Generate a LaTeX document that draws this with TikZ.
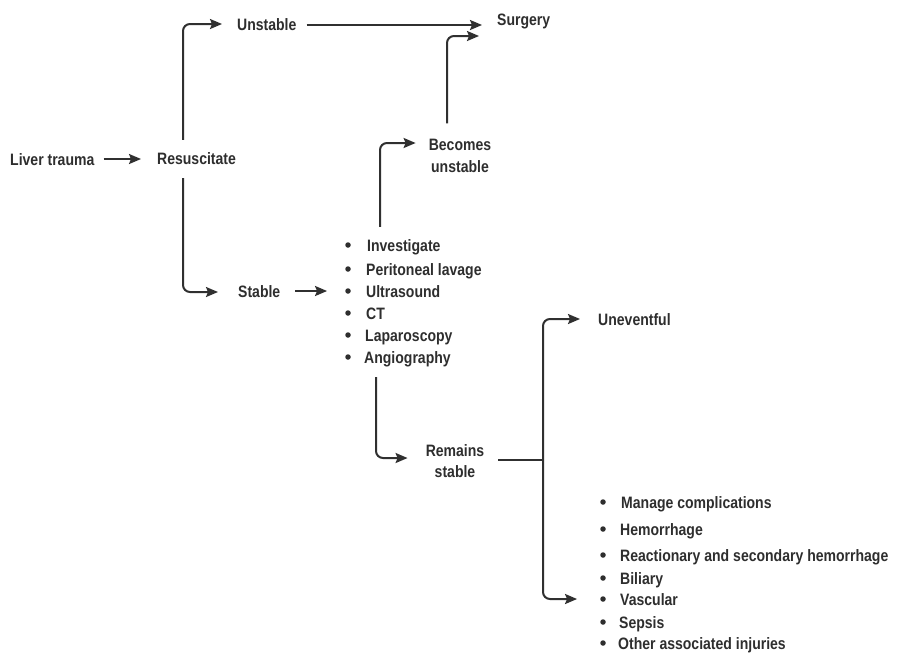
\documentclass[tikz,border=0pt]{standalone}
\usepackage{fontspec}
\setmainfont{Liberation Sans}
\newfontfamily\lblfont{Liberation Sans Bold}[FakeStretch=0.85]
\usetikzlibrary{arrows.meta}
\definecolor{ink}{HTML}{2E2E2E}
\definecolor{wire}{HTML}{303030}
\begin{document}
\begin{tikzpicture}[x=1pt,y=-1pt,
  lbl/.style={font=\lblfont\fontsize{16.5}{21.5}\selectfont, text=ink, inner sep=0pt, anchor=west, text height=12pt, text depth=0pt},
  twoline/.style={lbl, anchor=center, align=center, text height=, text depth=},
  conn/.style={draw=wire, line width=2pt, rounded corners=7pt, -{Stealth[length=12pt,width=10pt,inset=2pt]}},
  wireline/.style={draw=wire, line width=2pt, rounded corners=7pt},
  dot/.style={circle, fill=ink, inner sep=0pt, minimum size=5.5pt}]
\useasboundingbox[fill=white] (0,0) rectangle (901,657);

% main nodes
\node[lbl] (liver) at (10,159) {Liver trauma};
\node[lbl] (resus) at (157,158) {Resuscitate};
\node[lbl] (unst) at (237,24) {Unstable};
\node[lbl] (surg) at (497,19) {Surgery};
\node[twoline] (becomes) at (460,156) {Becomes\\unstable};
\node[lbl] (stable) at (238,291) {Stable};
\node[twoline] (remains) at (455,461) {Remains\\stable};
\node[lbl] (unev) at (598,319) {Uneventful};

% investigation list
\node[dot] (b1) at (348,245) {};
\node[dot] (b2) at (348,269) {};
\node[dot] (b3) at (348,291) {};
\node[dot] (b4) at (348,313) {};
\node[dot] (b5) at (348,335) {};
\node[dot] (b6) at (348,357) {};
\node[lbl] (inv) at (367,245) {Investigate};
\node[lbl] (per) at (366,269) {Peritoneal lavage};
\node[lbl] (ult) at (366,291) {Ultrasound};
\node[lbl] (ct)  at (366,313) {CT};
\node[lbl] (lap) at (365,335) {Laparoscopy};
\node[lbl] (ang) at (364,357) {Angiography};

% complications list
\node[dot] (c1) at (603,502) {};
\node[dot] (c2) at (603,529) {};
\node[dot] (c3) at (603,555) {};
\node[dot] (c4) at (603,578) {};
\node[dot] (c5) at (603,599) {};
\node[dot] (c6) at (603,622) {};
\node[dot] (c7) at (603,643) {};
\node[lbl] (man) at (621,502) {Manage complications};
\node[lbl] (hem) at (620,529) {Hemorrhage};
\node[lbl] (rea) at (620,555) {Reactionary and secondary hemorrhage};
\node[lbl] (bil) at (620,578) {Biliary};
\node[lbl] (vas) at (620,599) {Vascular};
\node[lbl] (sep) at (619,622) {Sepsis};
\node[lbl] (oth) at (618,643) {Other associated injuries};

% helper coordinates
\coordinate (xr) at (183,0);
\coordinate (xb) at (447,0);
\coordinate (xl) at (380,0);
\coordinate (xa) at (376,0);
\coordinate (junc) at (543,460);

% connectors
\draw[conn, shorten <=9pt, shorten >=16pt] (liver.east) -- (liver.east -| resus.west);
\draw[conn, shorten <=12pt, shorten >=15pt] (xr |- resus.north) |- (unst.west);
\draw[conn, shorten <=14pt, shorten >=20pt] (xr |- resus.south) |- ([yshift=-1pt]stable.west);
\draw[conn, shorten <=10pt, shorten >=15pt] ([yshift=-1pt]unst.east) -- ([yshift=-1pt]unst.east -| surg.west);
\draw[conn, shorten <=16pt, shorten >=18pt] (xb |- becomes.north) |- ([yshift=-17pt]surg.west);
\draw[conn, shorten <=12pt, shorten >=13pt] (xl |- inv.north) |- ([yshift=13pt]becomes.west);
\draw[conn, shorten <=15pt, shorten >=18pt] (stable.east) -- (b3.west);
\draw[conn, shorten <=14pt, shorten >=18pt] (xa |- ang.south) |- ([yshift=3pt]remains.west);
\draw[wireline, shorten <=14pt] (remains.east |- junc) -- (junc);
\draw[conn, shorten >=18pt] (junc) |- (unev.west);
\draw[conn, shorten >=23pt] (junc) |- (c5.west);
\end{tikzpicture}
\end{document}
